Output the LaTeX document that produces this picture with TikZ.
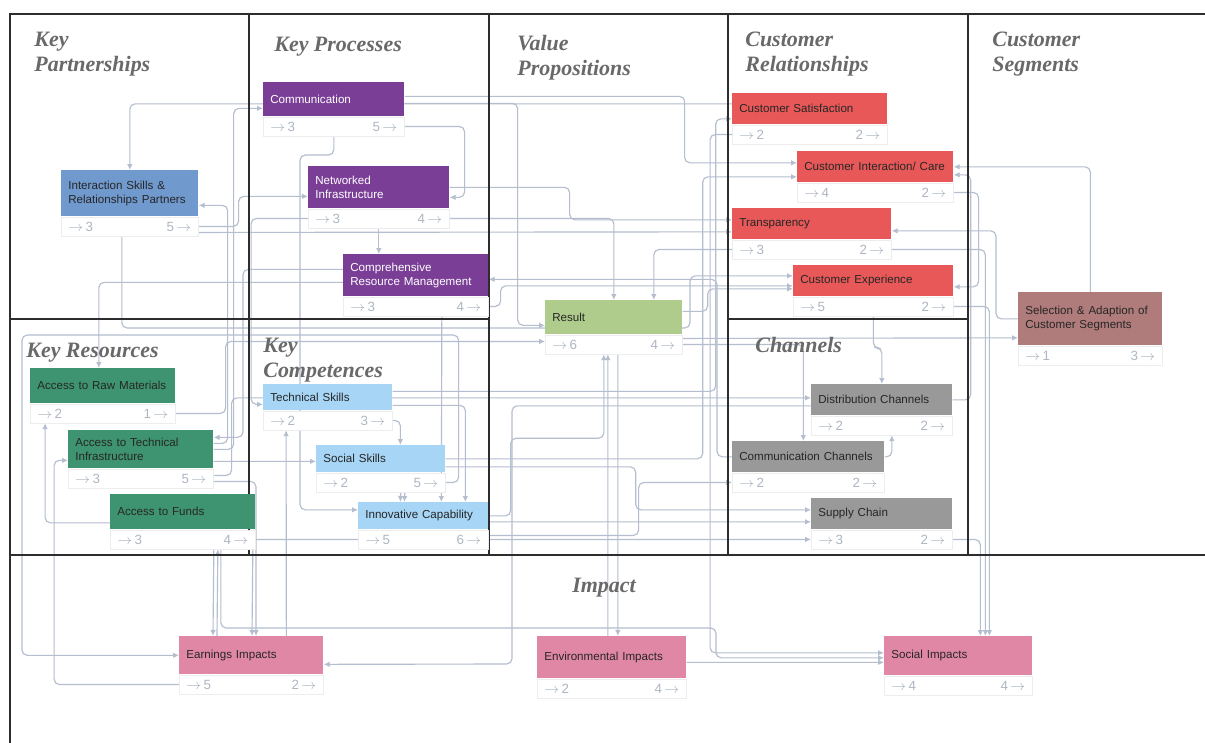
\documentclass[tikz,border=0pt]{standalone}
\usepackage{fontspec}
\setmainfont{Liberation Sans}
\newfontfamily\titlefont{Liberation Serif}
\usepackage{tikz}
\usetikzlibrary{arrows.meta, positioning, calc, backgrounds}
\definecolor{procpurple}{RGB}{122,62,150}
\definecolor{partblue}{RGB}{112,153,206}
\definecolor{relred}{RGB}{232,88,88}
\definecolor{segrose}{RGB}{176,123,123}
\definecolor{valgreen}{RGB}{176,204,140}
\definecolor{resgreen}{RGB}{62,148,112}
\definecolor{skillblue}{RGB}{166,213,245}
\definecolor{changrey}{RGB}{153,153,153}
\definecolor{imppink}{RGB}{224,135,166}
\definecolor{linkgrey}{RGB}{180,190,206}
\definecolor{countgrey}{RGB}{174,182,194}
\definecolor{titlegrey}{RGB}{105,105,105}
\definecolor{framegrey}{RGB}{45,45,45}
\newcommand\cardfont{\fontsize{6.6}{8}\selectfont}
\newcommand\countfont{\fontsize{7.6}{8}\selectfont}
\newcommand\cnt{\(\rightarrow\)}

\begin{document}
\begin{tikzpicture}[x=0.02cm, y=-0.02cm,
        head/.style={anchor=north west, inner xsep=0.14cm, inner ysep=0pt, align=left, font=\cardfont},
        prochead/.style={head, fill=procpurple, text=white},
        parthead/.style={head, fill=partblue, text=black!85},
        relhead/.style={head, fill=relred, text=black!85},
        seghead/.style={head, fill=segrose, text=black!85},
        valhead/.style={head, fill=valgreen, text=black!85},
        reshead/.style={head, fill=resgreen, text=black!85},
        skillhead/.style={head, fill=skillblue, text=black!85},
        chanhead/.style={head, fill=changrey, text=black!85},
        imphead/.style={head, fill=imppink, text=black!85},
        foot/.style={fill=white, draw=black!7, line width=0.3pt, inner xsep=0.14cm, inner ysep=0pt,
                     minimum height=0.38cm, font=\countfont, text=countgrey},
        title/.style={anchor=north west, inner sep=0pt, align=left, text=titlegrey,
                      font=\titlefont\bfseries\itshape\fontsize{12.5}{14.2}\selectfont},
        frame/.style={draw=framegrey, line width=1.1pt},
        link/.style={draw=linkgrey, line width=0.65pt, rounded corners=3pt, -{Latex[length=3.4pt,width=3.2pt]}}
    ]
        \useasboundingbox (0,0) rectangle (1205,743);
        % canvas grid
        \draw [frame, line width=1.7pt] (10,743) -- (10,14) -- (1205,14);
        \draw [frame] (249,14) -- (249,555) (489,14) -- (489,555) (728,14) -- (728,555) (968,14) -- (968,555);
        \draw [frame] (10,319) -- (489,319) (728,319) -- (968,319) (10,555) -- (1205,555);
        % section titles
        \node [title] (t-part) at (34,32) {Key\\Partnerships};
        \node [title] (t-proc) at (274,37) {Key Processes};
        \node [title] (t-value) at (517,35) {Value\\Propositions};
        \node [title] (t-rel) at (745,32) {Customer\\Relationships};
        \node [title] (t-seg) at (992,32) {Customer\\Segments};
        \node [title] (t-res) at (26,343) {Key Resources};
        \node [title] (t-comp) at (263,338) {Key\\Competences};
        \node [title] (t-chan) at (755,337) {Channels};
        \node [title, anchor=north] (t-imp) at (604,578) {Impact};
        % key partnerships and processes
        \node [parthead, text width=2.46cm, minimum height=0.92cm] (isr) at (61,170) {Interaction Skills \&\\Relationships Partners};
        \node [foot, text width=2.46cm, below=0pt of isr] (isrft) {\cnt\,3\hfill 5\,\cnt};
        \node [prochead, text width=2.54cm, minimum height=0.68cm] (comm) at (263,82) {Communication};
        \node [foot, text width=2.54cm, below=0pt of comm] (commft) {\cnt\,3\hfill 5\,\cnt};
        \node [prochead, text width=2.54cm, minimum height=0.84cm] (netinf) at (308,166) {Networked\\Infrastructure};
        \node [foot, text width=2.54cm, below=0pt of netinf] (netinfft) {\cnt\,3\hfill 4\,\cnt};
        \node [prochead, text width=2.62cm, minimum height=0.84cm] (crm) at (343,254) {Comprehensive\\Resource Management};
        \node [foot, text width=2.62cm, below=0pt of crm] (crmft) {\cnt\,3\hfill 4\,\cnt};
        % customer relationships and segments
        \node [relhead, text width=2.82cm, minimum height=0.62cm] (csat) at (732,93) {Customer Satisfaction};
        \node [foot, text width=2.82cm, below=0pt of csat] (csatft) {\cnt\,2\hfill 2\,\cnt};
        \node [relhead, text width=2.84cm, minimum height=0.62cm] (cint) at (797,151) {Customer Interaction/ Care};
        \node [foot, text width=2.84cm, below=0pt of cint] (cintft) {\cnt\,4\hfill 2\,\cnt};
        \node [relhead, text width=2.90cm, minimum height=0.62cm] (transp) at (732,208) {Transparency};
        \node [foot, text width=2.90cm, below=0pt of transp] (transpft) {\cnt\,3\hfill 2\,\cnt};
        \node [relhead, text width=2.92cm, minimum height=0.62cm] (cexp) at (793,265) {Customer Experience};
        \node [foot, text width=2.92cm, below=0pt of cexp] (cexpft) {\cnt\,5\hfill 2\,\cnt};
        \node [seghead, text width=2.60cm, minimum height=1.06cm] (sel) at (1018,292) {Selection \& Adaption of\\Customer Segments};
        \node [foot, text width=2.60cm, below=0pt of sel] (selft) {\cnt\,1\hfill 3\,\cnt};
        \node [valhead, text width=2.46cm, minimum height=0.68cm] (result) at (545,300) {Result};
        \node [foot, text width=2.46cm, below=0pt of result] (resultft) {\cnt\,6\hfill 4\,\cnt};
        % key resources and competences
        \node [reshead, text width=2.62cm, minimum height=0.70cm] (raw) at (30,368) {Access to Raw Materials};
        \node [foot, text width=2.62cm, below=0pt of raw] (rawft) {\cnt\,2\hfill 1\,\cnt};
        \node [reshead, text width=2.62cm, minimum height=0.76cm] (techinf) at (68,430) {Access to Technical\\Infrastructure};
        \node [foot, text width=2.62cm, below=0pt of techinf] (techinfft) {\cnt\,3\hfill 5\,\cnt};
        \node [reshead, text width=2.62cm, minimum height=0.70cm] (funds) at (110,494) {Access to Funds};
        \node [foot, text width=2.62cm, below=0pt of funds] (fundsft) {\cnt\,3\hfill 4\,\cnt};
        \node [skillhead, text width=2.30cm, minimum height=0.52cm] (techsk) at (263,384) {Technical Skills};
        \node [foot, text width=2.30cm, below=0pt of techsk] (techskft) {\cnt\,2\hfill 3\,\cnt};
        \node [skillhead, text width=2.30cm, minimum height=0.54cm] (socsk) at (316,445) {Social Skills};
        \node [foot, text width=2.30cm, below=0pt of socsk] (socskft) {\cnt\,2\hfill 5\,\cnt};
        \node [skillhead, text width=2.32cm, minimum height=0.54cm] (innov) at (358,502) {Innovative Capability};
        \node [foot, text width=2.32cm, below=0pt of innov] (innovft) {\cnt\,5\hfill 6\,\cnt};
        % channels
        \node [chanhead, text width=2.54cm, minimum height=0.62cm] (distr) at (811,384) {Distribution Channels};
        \node [foot, text width=2.54cm, below=0pt of distr] (distrft) {\cnt\,2\hfill 2\,\cnt};
        \node [chanhead, text width=2.76cm, minimum height=0.62cm] (commch) at (732,441) {Communication Channels};
        \node [foot, text width=2.76cm, below=0pt of commch] (commchft) {\cnt\,2\hfill 2\,\cnt};
        \node [chanhead, text width=2.54cm, minimum height=0.62cm] (supply) at (811,498) {Supply Chain};
        \node [foot, text width=2.54cm, below=0pt of supply] (supplyft) {\cnt\,3\hfill 2\,\cnt};
        % impact
        \node [imphead, text width=2.60cm, minimum height=0.76cm] (earn) at (179,636) {Earnings Impacts};
        \node [foot, text width=2.60cm, below=0pt of earn] (earnft) {\cnt\,5\hfill 2\,\cnt};
        \node [imphead, text width=2.70cm, minimum height=0.84cm] (env) at (537,636) {Environmental Impacts};
        \node [foot, text width=2.70cm, below=0pt of env] (envft) {\cnt\,2\hfill 4\,\cnt};
        \node [imphead, text width=2.68cm, minimum height=0.78cm] (socimp) at (884,636) {Social Impacts};
        \node [foot, text width=2.68cm, below=0pt of socimp] (socimpft) {\cnt\,4\hfill 4\,\cnt};
        % connectors
        \begin{scope}[on background layer]
        \fill [white] (0,0) rectangle (1205,743);
        \path [link] (sel.north) |- (cint.east);
        \path [link] (cintft.east) -- ++(25,0) |- ($(cexp.east)+(0,6)$);
        \path [link] (sel.west) -- ++(-22,0) |- ($(transp.east)+(0,7)$);
        \path [link] (transpft.east) -| ($(socimp.north)+(27,0)$);
        \path [link] (cexpft.east) -| ($(socimp.north)+(31,0)$);
        \path [link] (cexpft.south) |- ($(distr.north)+(0,-36)$) -- (distr.north);
        \path [link] (commch.east) -| ($(distrft.south)+(10,0)$);
        \path [link] (resultft.east) -| ($(commch.north)+(-5,0)$);
        \path [link] ($(resultft.east)+(0,-6)$) -- ($(sel.west)+(0,19)$);
        \path [link] ($(env.north)+(-4,0)$) -- ($(resultft.south)+(-6,0)$);
        \path [link] ($(resultft.south)+(4,0)$) -- ($(env.north)+(6,0)$);
        \path [link] (innov.east) -- ++(22,0) |- ($(resultft.south)+(-10,84)$) -- ($(resultft.south)+(-10,0)$);
        \path [link] (rawft.east) -- ++(50,0) |- ($(resultft.west)+(0,-3)$);
        \path [link] (socskft.east) -- ++(13,0) |- (22,335) |- (earn.west);
        \path [link] ($(distr.west)+(0,6)$) -| (512,664) -- ($(earn.east)+(0,9)$);
        \path [link] ($(fundsft.south)+(70,0)$) -- ($(earn.north west)+(73,0)$);
        \path [link] ($(fundsft.south)+(31,0)$) -- ($(earn.north west)+(34,0)$);
        \path [link] ($(earn.north west)+(38,0)$) -- ($(fundsft.south)+(35,0)$);
        \path [link] ($(techinfft.east)+(0,3)$) -| ($(earn.north west)+(77,0)$);
        \path [link] ($(env.east)+(0,5)$) -- ($(socimp.west)+(0,6.5)$);
        \path [link] ($(fundsft.south)+(38,0)$) |- (716,628) |- ($(socimp.west)+(0,2)$);
        \path [link] (csatft.west) -- ++(-22,0) |- ($(socimp.west)+(0,-3)$);
        \path [link] ($(innov.east)+(0,6)$) -- ($(supply.west)+(0,8)$);
        \path [link] (fundsft.east) -- (supplyft.west);
        \path [link] (netinfft.west) -- ++(-57,0) |- ($(techsk.west)+(0,7)$);
        \path [link] ($(earn.north)+(35,0)$) -- ($(techskft.south west)+(23,0)$);
        \path [link] (commft.south) |- (300,155) |- ($(innov.west)+(0,-6)$);
        \path [link] (techskft.east) -| ($(socsk.north)+(19.5,0)$);
        \path [link] ($(socskft.south)+(20,0)$) -- ($(innov.north)+(-23,0)$);
        \path [link] ($(socskft.south)+(24,0)$) -- ($(innov.north)+(-19,0)$);
        \path [link] ($(techsk.east)+(0,8)$) -| ($(innov.north)+(42,0)$);
        \path [link] ($(crm.west)+(0,7)$) -| ($(raw.north)+(-4,0)$);
        \path [link] ($(funds.west)+(0,11)$) -| ($(rawft.south west)+(15,0)$);
        \path [link] (earnft.west) -- ++(-125,0) |- ($(techinf.west)+(0,11)$);
        \path [link] ($(isrft.south)+(-8,0)$) |- (690,328) |- ($(cexp.west)+(0,-5)$);
        \path [link] ($(isrft.east)+(0,6)$) -- ($(transp.west)+(0,8)$);
        \path [link] ($(csat.west)+(0,-5)$) -| (isr.north);
        \path [link] (techinf.east) -- ++(20,0) |- ($(comm.west)+(0,9)$);
        \path [link] ($(techinf.east)+(0,-6)$) -- ++(14,0) |- ($(isr.east)+(0,12)$);
        \path [link] (isrft.east) -- ++(40,0) |- ($(netinf.west)+(0,9)$);
        \path [link] (netinfft.south) -- (netinfft.south |- crm.north);
        \path [link] (commch.west) -- ++(-15,0) |- ($(crm.east)+(0,4)$);
        \path [link] ($(techsk.east)+(0,-6)$) -- ++(323,0) |- ($(csat.west)+(0,10)$);
        \path [link] (socsk.east) -- ++(257,0) |- ($(cint.west)+(0,10)$);
        \path [link] (crmft.east) -- ++(12,0) |- ($(cexp.west)+(0,5)$);
        \path [link] ($(comm.east)+(0,4)$) -- ++(113,0) |- ($(result.west)+(0,8)$);
        \path [link] ($(comm.east)+(0,-3)$) -- ++(280,0) |- ($(cint.west)+(0,-4)$);
        \path [link] (commft.east) -- ++(60,0) |- ($(netinf.east)+(0,10)$);
        \path [link] (netinf.east) -- ++(120,0) |- ($(transp.west)+(0,-4)$);
        \path [link] (netinfft.east) -| (result.north);
        \path [link] ($(crmft.south)+(26,0)$) -- ($(innov.north)+(18,0)$);
        \path [link] ($(crm.west)+(0,-6)$) -- ++(-100,0) |- ($(techinf.east)+(0,-12)$);
        \path [link] ($(techinf.east)+(0,12)$) -- ($(socsk.west)+(0,2.5)$);
        \path [link] ($(techinfft.east)+(0,-3)$) -- ++(18,0) |- ($(distr.west)+(0,-2)$);
        \path [link] ($(socsk.east)+(0,8)$) -- ++(190,0) |- ($(supply.west)+(0,-4)$);
        \path [link] ($(innovft.east)+(0,-4)$) -- ++(150,0) |- (commchft.west);
        \path [link] (supplyft.east) -| ($(socimp.north)+(22,0)$);
        \path [link] (distr.east) -- ++(18,0) |- ($(cint.east)+(0,8)$);
        \path [link] (transpft.west) -| ($(result.north)+(40,0)$);
        \path [link] ($(result.east)+(0,-6)$) -- ++(25,0) |- ($(cexp.west)+(0,8)$);
        \end{scope}
    \end{tikzpicture}
\end{document}
